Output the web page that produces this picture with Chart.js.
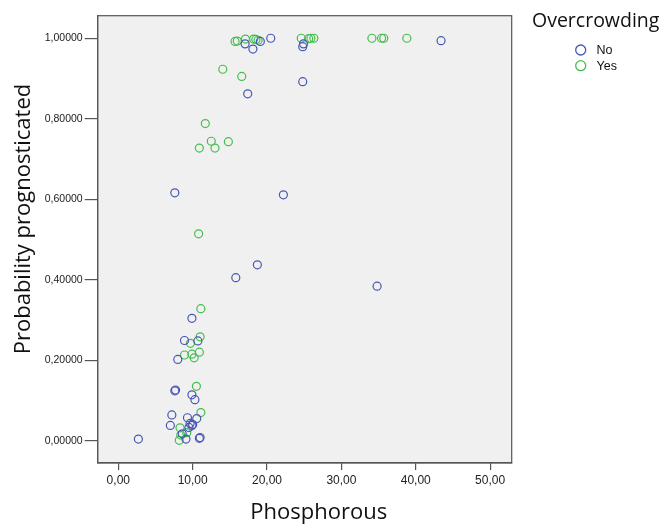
<!DOCTYPE html>
<html>
<head>
<meta charset="utf-8">
<script src="https://cdn.jsdelivr.net/npm/chart.js@4.4.1/dist/chart.umd.min.js"></script>
<style>
html,body{margin:0;padding:0;background:#fff;}
canvas{display:block;}
</style>
</head>
<body>
<canvas id="c" width="663" height="528"></canvas>
<script>
// Overcrowding = No
const noX = [2.7, 7.0, 7.2, 7.6, 7.7, 8.0, 8.6, 8.9, 9.1, 9.3, 9.5, 9.65, 9.9, 10.0, 9.9, 10.3, 9.9, 10.55, 10.7, 10.9, 11.0,
             7.6, 15.8, 17.4, 17.05, 18.1, 18.7, 19.1, 20.5, 22.2, 24.8, 24.8, 24.9, 34.8, 43.4];
const noY = [0.004, 0.038, 0.064, 0.124, 0.126, 0.202, 0.017, 0.249, 0.004, 0.057, 0.033, 0.043, 0.038, 0.040, 0.114, 0.102, 0.304, 0.055, 0.248, 0.006, 0.008,
             0.616, 0.405, 0.862, 0.986, 0.973, 0.437, 0.992, 1.000, 0.611, 0.892, 0.979, 0.986, 0.384, 0.994];
// Overcrowding = Yes
const yesX = [8.2, 8.3, 8.4, 9.2, 8.9, 9.7, 9.9, 10.2, 10.9, 11.0, 11.1, 10.5, 11.1, 10.8, 10.9, 11.7, 12.5, 13.0, 14.8,
              14.05, 16.6, 15.7, 16.0, 17.1, 18.2, 18.5, 18.8, 24.6, 25.6, 25.9, 26.3, 34.1, 35.4, 35.7, 38.8];
const yesY = [0.001, 0.032, 0.014, 0.020, 0.213, 0.242, 0.215, 0.206, 0.220, 0.258, 0.328, 0.135, 0.070, 0.514, 0.727, 0.788, 0.744, 0.727, 0.743,
              0.923, 0.905, 0.992, 0.993, 0.998, 0.998, 0.997, 0.995, 1.000, 0.999, 1.000, 1.000, 1.000, 1.000, 1.000, 1.000];
const seriesNames = ['No', 'Yes'];
const xTicks = [0, 10, 20, 30, 40, 50];
const yTicks = [0, 0.2, 0.4, 0.6, 0.8, 1.0];
const xTitle = 'Phosphorous';
const yTitle = 'Probability prognosticated';
const legendTitle = 'Overcrowding';

const colors = ['#4857b5', '#45bd4f'];
const toPts = (xs, ys) => xs.map((x, i) => ({x: x, y: ys[i]}));

const bgPlugin = {
  id: 'bg',
  beforeDraw(chart) {
    const {ctx, chartArea: a} = chart;
    ctx.save();
    ctx.fillStyle = '#f0f0f0';
    ctx.fillRect(a.left, a.top, a.right - a.left, a.bottom - a.top);
    ctx.restore();
  },
  afterDraw(chart) {
    const {ctx, chartArea: a} = chart;
    ctx.save();
    ctx.strokeStyle = '#555';
    ctx.lineWidth = 1.2;
    ctx.strokeRect(a.left, a.top, a.right - a.left, a.bottom - a.top);
    // axis titles
    ctx.fillStyle = '#111';
    ctx.font = '22px "Open Sans", sans-serif';
    ctx.textAlign = 'center';
    ctx.textBaseline = 'alphabetic';
    ctx.fillText(xTitle, 318.7, 519);
    ctx.save();
    ctx.translate(29.5, 219);
    ctx.rotate(-Math.PI / 2);
    ctx.fillText(yTitle, 0, 0);
    ctx.restore();
    // legend
    ctx.textAlign = 'left';
    ctx.font = '19.5px "Open Sans", sans-serif';
    ctx.fillText(legendTitle, 532, 27);
    ctx.font = '12.5px "Liberation Sans", Arial, sans-serif';
    ctx.textBaseline = 'middle';
    const ys = [50, 65.7];
    seriesNames.forEach((n, i) => {
      ctx.beginPath();
      ctx.arc(580.7, ys[i], 5, 0, Math.PI * 2);
      ctx.strokeStyle = colors[i];
      ctx.lineWidth = 1.3;
      ctx.stroke();
      ctx.fillStyle = '#111';
      ctx.fillText(n, 596.5, ys[i] + 0.5);
    });
    ctx.restore();
  }
};

new Chart(document.getElementById('c'), {
  type: 'scatter',
  data: {
    datasets: [
      {label: seriesNames[0], data: toPts(noX, noY), borderColor: colors[0], backgroundColor: 'rgba(0,0,0,0)',
       pointRadius: 4, pointBorderWidth: 1.2, pointHoverRadius: 4},
      {label: seriesNames[1], data: toPts(yesX, yesY), borderColor: colors[1], backgroundColor: 'rgba(0,0,0,0)',
       pointRadius: 4, pointBorderWidth: 1.2, pointHoverRadius: 4}
    ]
  },
  options: {
    responsive: false,
    animation: false,
    devicePixelRatio: 1,
    layout: {padding: {left: 0, top: 15.7, right: 151.3, bottom: 0}},
    plugins: {legend: {display: false}, tooltip: {enabled: false}},
    scales: {
      x: {
        type: 'linear', min: -2.77, max: 52.9,
        afterBuildTicks: s => { s.ticks = xTicks.map(v => ({value: v})); },
        afterFit: s => { s.height = 65; },
        grid: {display: true, drawOnChartArea: false, drawTicks: true, tickLength: 7, color: '#555', lineWidth: 1.2},
        border: {display: true, color: '#555', width: 1.2},
        ticks: {padding: 3, color: '#222', font: {family: '"Liberation Sans", Arial, sans-serif', size: 12},
                callback: v => v.toFixed(2).replace('.', ','), maxRotation: 0, autoSkip: false},
        title: {display: false}
      },
      y: {
        type: 'linear', min: -0.0554, max: 1.056,
        afterBuildTicks: s => { s.ticks = yTicks.map(v => ({value: v})); },
        afterFit: s => { s.width = 97.7; },
        grid: {display: true, drawOnChartArea: false, drawTicks: true, tickLength: 13, color: '#555', lineWidth: 1.2},
        border: {display: true, color: '#555', width: 1.2},
        ticks: {padding: 2, color: '#222', font: {family: '"Liberation Sans", Arial, sans-serif', size: 10.5},
                callback: v => v.toFixed(5).replace('.', ','), autoSkip: false},
        title: {display: false}
      }
    }
  },
  plugins: [bgPlugin]
});
</script>
</body>
</html>
